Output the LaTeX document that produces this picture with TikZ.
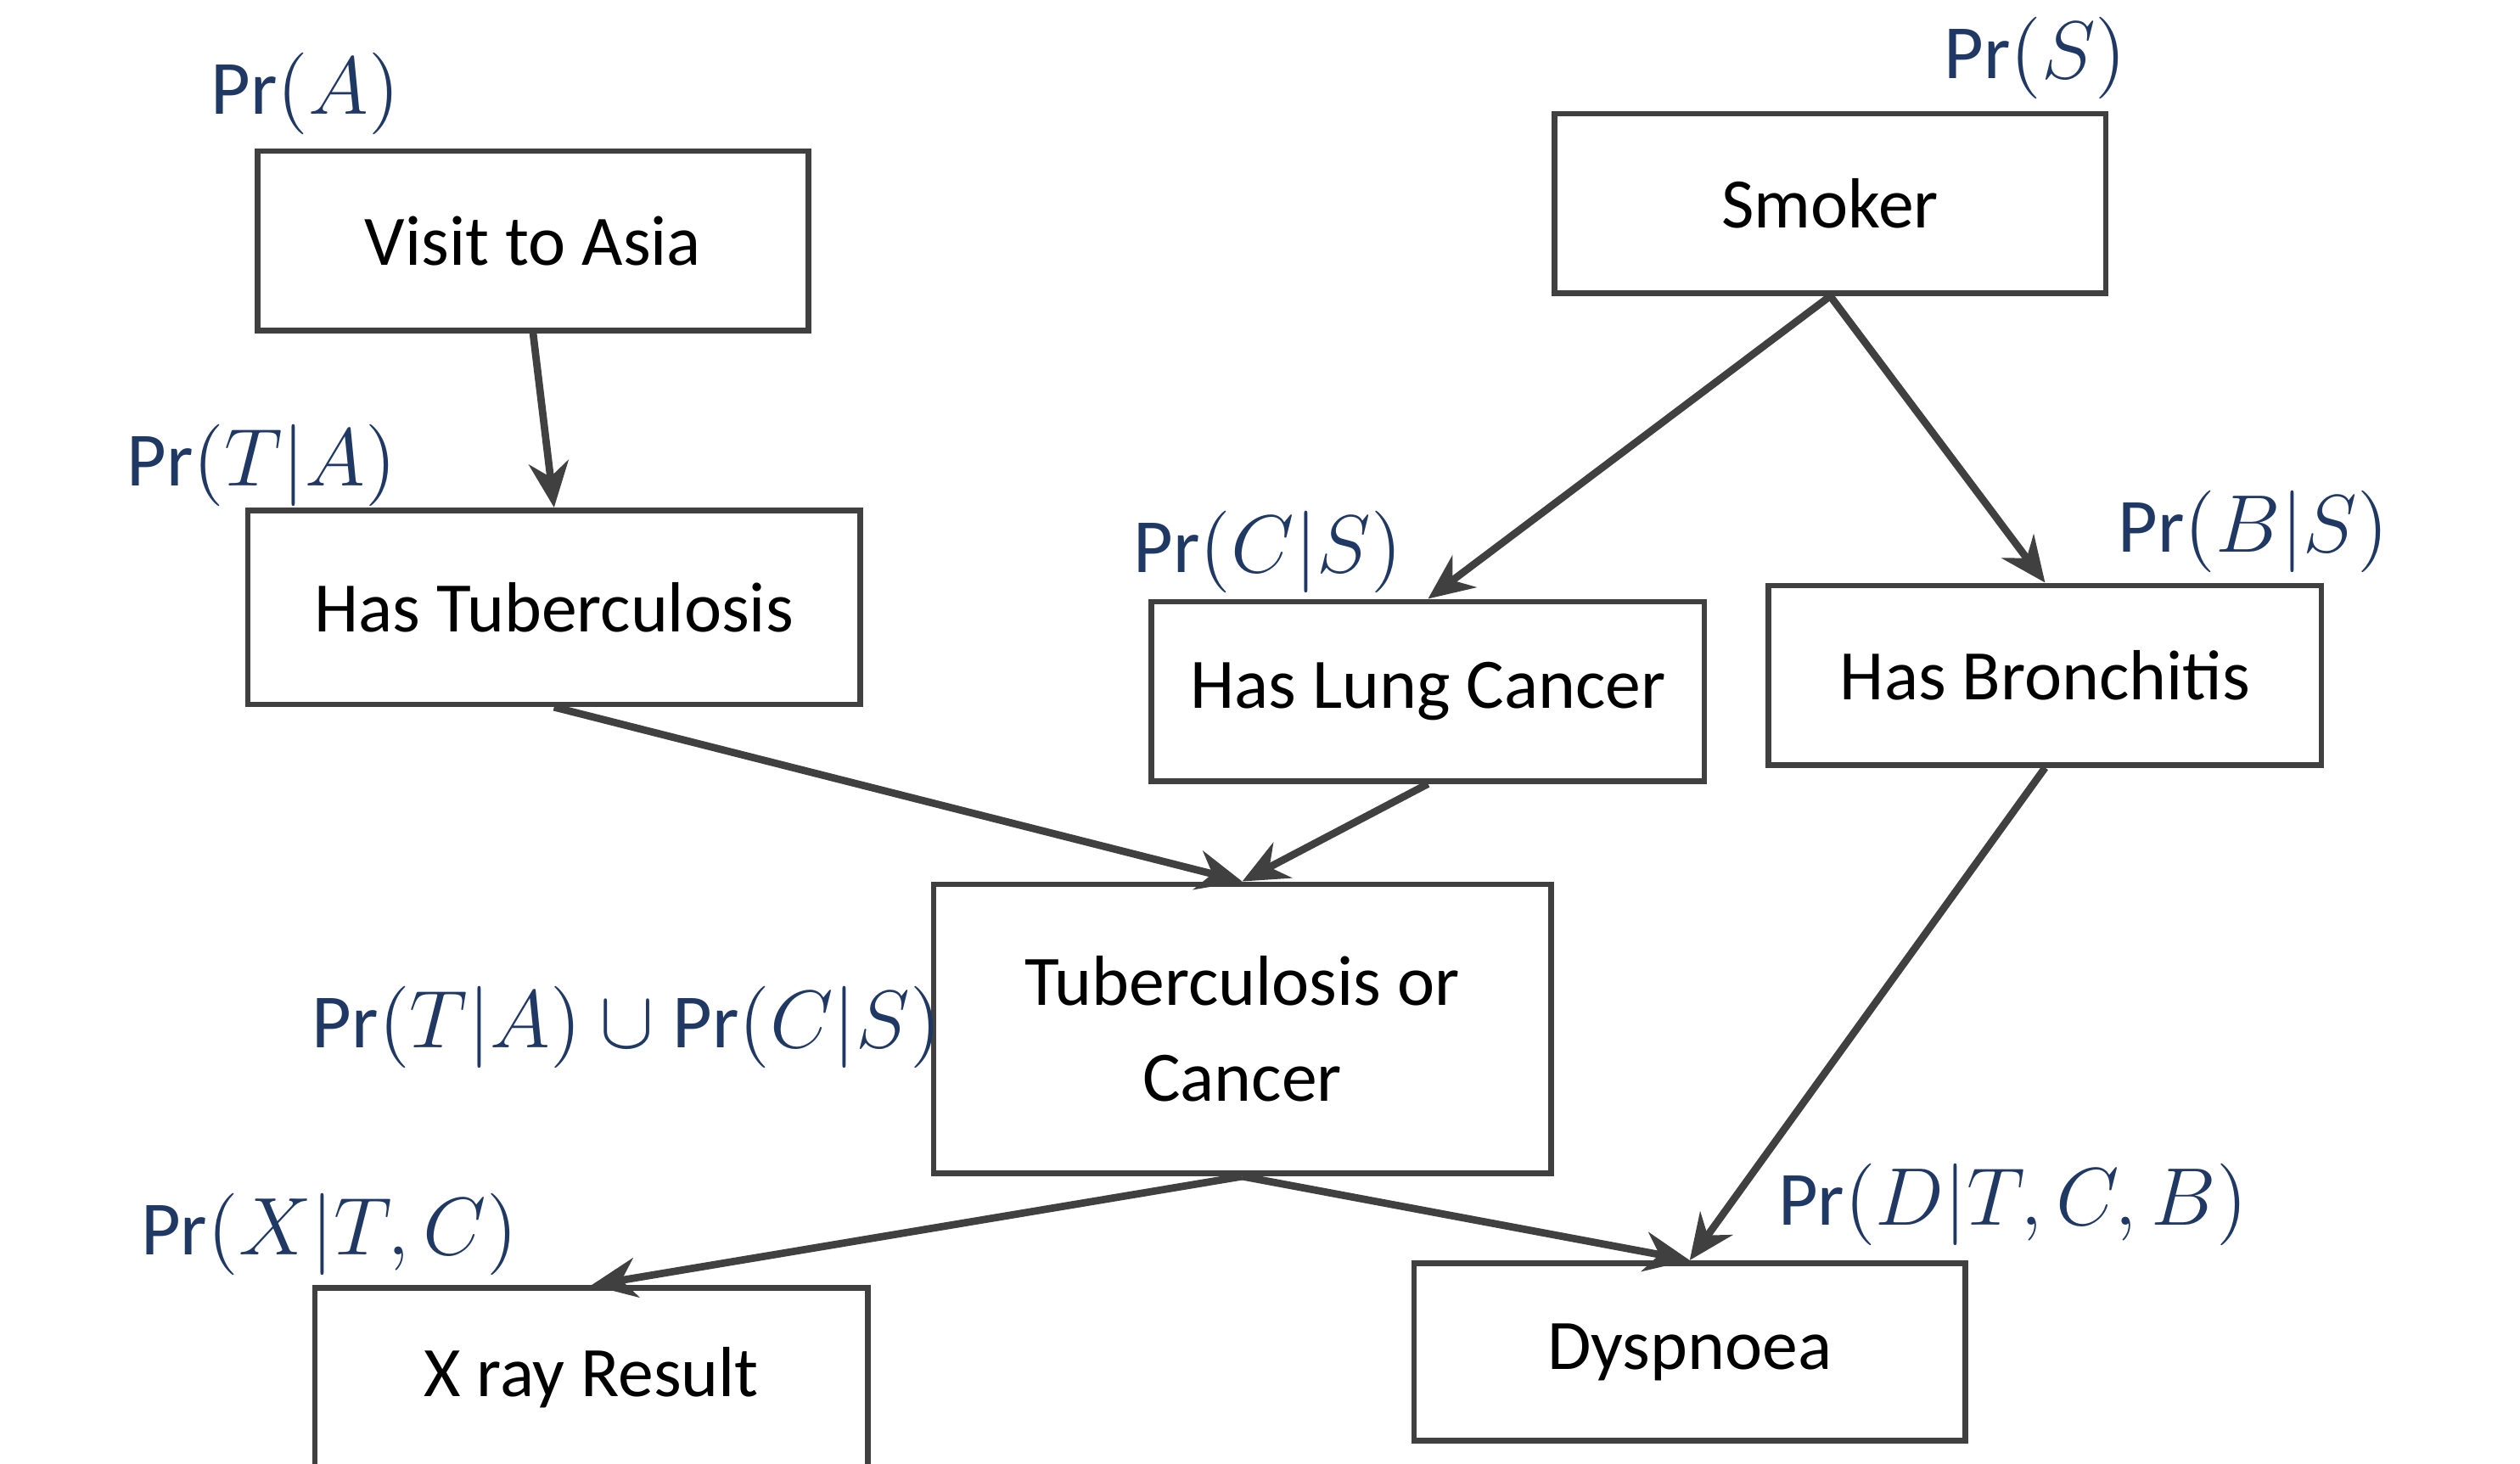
\documentclass[tikz,border=0pt]{standalone}
\usepackage{fontspec}
\setmainfont{Carlito}
\usetikzlibrary{arrows.meta}
\definecolor{lab}{HTML}{203864}
\definecolor{ln}{HTML}{404040}
\begin{document}
\begin{tikzpicture}[x=0.01cm,y=-0.01cm,
  box/.style={draw=ln,line width=1pt,minimum width=3.41cm,minimum height=1.11cm,inner sep=0pt,align=center,font=\fontsize{12.5}{17}\selectfont},
  lbl/.style={text=lab,font=\fontsize{13.5}{16}\selectfont},
  arr/.style={draw=ln,line width=1.3pt,-{Stealth[length=8pt,width=7pt]}}]
\useasboundingbox (0,0) rectangle (1560,906);
\node[box] (asia) at (330,149) {Visit to Asia};
\node[box] (smk) at (1133,126) {Smoker};
\node[box,minimum width=3.79cm,minimum height=1.2cm] (tb) at (343,376) {Has Tuberculosis};
\node[box,minimum width=3.42cm] (lc) at (884,428) {Has Lung Cancer};
\node[box,minimum width=3.42cm] (br) at (1266,418) {Has Bronchitis};
\node[box,minimum width=3.82cm,minimum height=1.79cm] (tc) at (769,637) {Tuberculosis or\\Cancer};
\node[box,minimum width=3.42cm] (xr) at (366,853) {X ray Result};
\node[box,minimum width=3.41cm,minimum height=1.1cm] (dy) at (1046,837) {Dyspnoea};
\node[lbl] (la) at (189,58) {$\mathrm{Pr}(A)$};
\node[lbl] (ls) at (1260,36) {$\mathrm{Pr}(S)$};
\node[lbl] (lt) at (162,288) {$\mathrm{Pr}(T|A)$};
\node[lbl] (lcs) at (785,342) {$\mathrm{Pr}(C|S)$};
\node[lbl] (lbs) at (1395,329) {$\mathrm{Pr}(B|S)$};
\node[lbl] (lu) at (388,636) {$\mathrm{Pr}(T|A)\cup\mathrm{Pr}(C|S)$};
\node[lbl] (lx) at (204,764) {$\mathrm{Pr}(X|T,C)$};
\node[lbl] (ld) at (1246,746) {$\mathrm{Pr}(D|T,C,B)$};
\draw[arr] (asia.south) -- (tb.north);
\draw[arr] (smk.south) -- (lc.north);
\draw[arr] (smk.south) -- (br.north);
\draw[arr] (tb.south) -- (tc.north);
\draw[arr] (lc.south) -- (tc.north);
\draw[arr] (tc.south) -- (xr.north);
\draw[arr] (tc.south) -- (dy.north);
\draw[arr] (br.south) -- (dy.north);
\end{tikzpicture}
\end{document}
